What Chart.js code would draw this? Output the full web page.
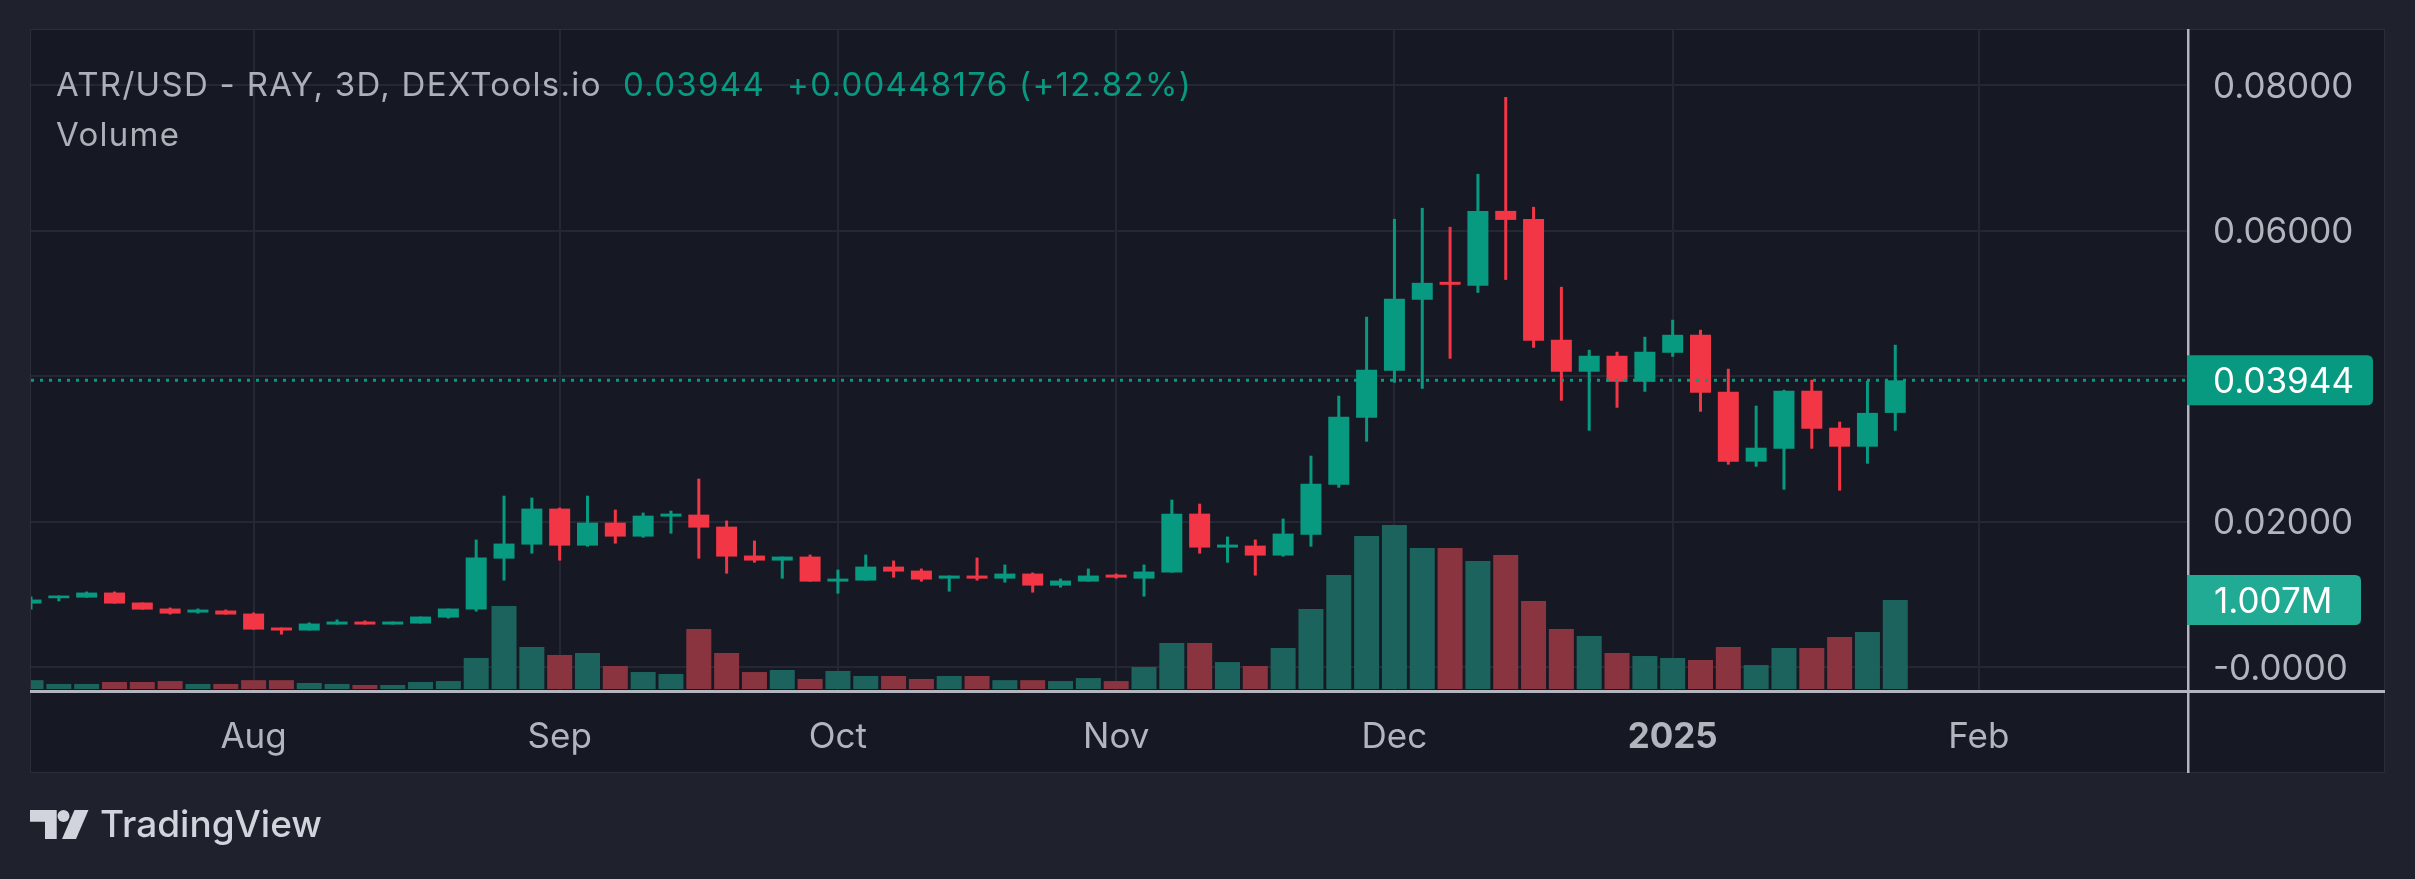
<!DOCTYPE html>
<html>
<head>
<meta charset="utf-8">
<script src="https://cdn.jsdelivr.net/npm/chart.js@4.4.1/dist/chart.umd.min.js"></script>
<style>
html,body{margin:0;padding:0;background:#1f222d;overflow:hidden;}
#wrap{position:relative;width:2415px;height:879px;}
canvas{position:absolute;left:0;top:0;}
.t{position:absolute;font-family:Inter,'Noto Sans',sans-serif;white-space:nowrap;line-height:1;}
.lg{font-size:33px;letter-spacing:1.3px;}
</style>
</head>
<body>
<div id="wrap">
<canvas id="c" width="2415" height="879"></canvas>
<div class="t lg" style="left:56px;top:67.5px;color:#adb0b8">ATR/USD - RAY, 3D, DEXTools.io</div>
<div class="t lg" style="left:623px;top:67.5px;color:#089981">0.03944</div>
<div class="t lg" style="left:787px;top:67.5px;color:#089981">+0.00448176 (+12.82%)</div>
<div class="t lg" style="left:56px;top:117.5px;color:#adb0b8">Volume</div>
<svg style="position:absolute;left:0;top:0" width="120" height="879" viewBox="0 0 120 879">
  <path d="M30 810 H56.7 V839 H45 V821.7 H30 Z" fill="#d1d4dc"/>
  <circle cx="63.5" cy="816" r="6" fill="#d1d4dc"/>
  <path d="M74.5 810 H88.5 L76 839 H62 Z" fill="#d1d4dc"/>
</svg>
<div class="t" style="left:100px;top:805px;font-size:37px;font-weight:500;color:#d1d4dc">TradingView</div>
</div>
<script>
// ---- data (3D candles, ATR/USD) ----
const opens = [0.00873,0.00946,0.00955,0.01024,0.00887,0.00804,0.00749,0.00777,0.00735,0.00543,
0.00502,0.00584,0.00625,0.00584,0.00598,0.00680,0.00790,0.01491,0.01684,0.02179,
0.01670,0.01986,0.01794,0.02069,0.02096,0.01931,0.01533,0.01464,0.01519,0.01175,
0.01189,0.01381,0.01326,0.01216,0.01258,0.01216,0.01285,0.01120,0.01175,0.01271,
0.01216,0.01299,0.02110,0.01643,0.01670,0.01533,0.01821,0.02509,0.03430,0.04076,
0.05052,0.05299,0.05244,0.06275,0.06165,0.04502,0.04062,0.04282,0.03924,0.04323,
0.04570,0.03787,0.02825,0.03003,0.03801,0.03292,0.03031,0.03496];
const highs = [0.00969,0.00983,0.01038,0.01038,0.00887,0.00818,0.00804,0.00790,0.00749,0.00543,
0.00612,0.00653,0.00639,0.00625,0.00694,0.00804,0.01753,0.02357,0.02330,0.02192,
0.02357,0.02165,0.02124,0.02151,0.02591,0.02014,0.01739,0.01519,0.01546,0.01340,
0.01546,0.01464,0.01354,0.01258,0.01505,0.01409,0.01299,0.01216,0.01354,0.01285,
0.01409,0.02302,0.02247,0.01794,0.01753,0.02041,0.02907,0.03732,0.04818,0.06165,
0.06316,0.06055,0.06784,0.07842,0.06330,0.05230,0.04364,0.04337,0.04543,0.04777,
0.04639,0.04103,0.03595,0.03814,0.03952,0.03375,0.03938,0.04433];
const lows = [0.00790,0.00904,0.00955,0.00873,0.00790,0.00722,0.00735,0.00722,0.00515,0.00447,
0.00502,0.00584,0.00584,0.00584,0.00598,0.00667,0.00763,0.01189,0.01560,0.01464,
0.01656,0.01698,0.01780,0.01835,0.01491,0.01285,0.01436,0.01216,0.01175,0.01010,
0.01189,0.01230,0.01175,0.01038,0.01189,0.01162,0.01024,0.01093,0.01175,0.01216,
0.00969,0.01299,0.01560,0.01436,0.01258,0.01519,0.01656,0.02467,0.03100,0.03911,
0.03828,0.04241,0.05148,0.05326,0.04392,0.03663,0.03251,0.03567,0.03787,0.04268,
0.03512,0.02784,0.02756,0.02440,0.03003,0.02426,0.02797,0.03251];
const closes = [0.00928,0.00983,0.01024,0.00873,0.00790,0.00735,0.00790,0.00722,0.00515,0.00502,
0.00598,0.00625,0.00584,0.00625,0.00694,0.00804,0.01505,0.01698,0.02179,0.01670,
0.01986,0.01794,0.02082,0.02110,0.01918,0.01519,0.01464,0.01519,0.01175,0.01216,
0.01381,0.01313,0.01203,0.01258,0.01216,0.01285,0.01120,0.01189,0.01258,0.01230,
0.01313,0.02110,0.01643,0.01684,0.01533,0.01835,0.02522,0.03443,0.04089,0.05065,
0.05285,0.05258,0.06275,0.06151,0.04488,0.04062,0.04282,0.03924,0.04337,0.04570,
0.03773,0.02825,0.03017,0.03801,0.03278,0.03031,0.03496,0.03944];
const volumes = [0.100,0.057,0.057,0.079,0.079,0.090,0.057,0.057,0.100,0.100,
0.068,0.057,0.045,0.045,0.079,0.090,0.351,0.939,0.475,0.385,
0.407,0.260,0.192,0.170,0.679,0.407,0.192,0.215,0.113,0.204,
0.147,0.147,0.113,0.147,0.147,0.100,0.100,0.090,0.124,0.090,
0.249,0.520,0.520,0.305,0.260,0.464,0.905,1.290,1.731,1.855,
1.595,1.595,1.448,1.516,0.995,0.679,0.600,0.407,0.373,0.351,
0.328,0.475,0.271,0.464,0.464,0.588,0.645,1.007];
const priceTickValues = [0, 0.02, 0.04, 0.06, 0.08];
const priceTickLabels = ['-0.0000', '0.02000', '', '0.06000', '0.08000'];
const timeTickIndex = [8, 19, 29, 39, 49, 59, 70];
const timeTickLabels = ['Aug', 'Sep', 'Oct', 'Nov', 'Dec', '2025', 'Feb'];
const lastCloseLabel = '0.03944';
const lastVolumeLabel = '1.007M';

// ---- styles ----
const UP = '#089981', DN = '#f23645', UPV = '#1d635d', DNV = '#89343f';
const OUTER = '#1f222d', PANEL = '#161924', GRID = '#252834', AXIS = '#b2b5be';
Chart.defaults.font.family = 'Inter';

const idx = opens.map((_, i) => i);
const up = idx.map(i => closes[i] >= opens[i]);
const lastClose = closes[closes.length - 1];
const lastVol = volumes[volumes.length - 1];

function boxRight(ctx, x, y, w, h, r, color) {
  ctx.fillStyle = color;
  ctx.beginPath();
  ctx.moveTo(x, y);
  ctx.lineTo(x + w - r, y);
  ctx.quadraticCurveTo(x + w, y, x + w, y + r);
  ctx.lineTo(x + w, y + h - r);
  ctx.quadraticCurveTo(x + w, y + h, x + w - r, y + h);
  ctx.lineTo(x, y + h);
  ctx.closePath();
  ctx.fill();
}

const deco = {
  id: 'deco',
  beforeDraw(chart) {
    const ctx = chart.ctx;
    ctx.save();
    ctx.fillStyle = OUTER; ctx.fillRect(0, 0, 2415, 879);
    ctx.fillStyle = PANEL; ctx.fillRect(30, 29, 2355, 744);
    ctx.strokeStyle = '#2a2e39'; ctx.lineWidth = 1;
    ctx.strokeRect(30.5, 29.5, 2354, 743);
    ctx.restore();
  },
  afterDatasetsDraw(chart) {
    const ctx = chart.ctx, a = chart.chartArea;
    const y = chart.scales.y.getPixelForValue(lastClose);
    ctx.save();
    ctx.strokeStyle = UP; ctx.lineWidth = 3;
    ctx.setLineDash([3, 6]);
    ctx.beginPath(); ctx.moveTo(a.left, y); ctx.lineTo(a.right, y); ctx.stroke();
    ctx.restore();
  },
  afterDraw(chart) {
    const ctx = chart.ctx;
    ctx.save();
    ctx.fillStyle = AXIS;
    ctx.fillRect(30, 690, 2355, 3);
    ctx.fillRect(2187, 29, 2.5, 744);
    const yp = chart.scales.y.getPixelForValue(lastClose);
    boxRight(ctx, 2187, yp - 25, 186, 50, 6, UP);
    const yv = chart.scales.yv.getPixelForValue(lastVol);
    boxRight(ctx, 2187, yv - 25, 174, 50, 6, '#22ab94');
    ctx.fillStyle = '#ffffff';
    ctx.font = '35px Inter';
    ctx.textBaseline = 'alphabetic';
    ctx.textAlign = 'left';
    ctx.fillText(lastCloseLabel, 2213, yp + 13);
    ctx.fillText(lastVolumeLabel, 2214, yv + 13);
    ctx.restore();
  }
};

function noPad(s) { s.paddingTop = 0; s.paddingBottom = 0; s.paddingLeft = 0; s.paddingRight = 0; }

new Chart(document.getElementById('c'), {
  type: 'bar',
  data: {
    datasets: [
      { label: 'Volume', yAxisID: 'yv', order: 3, grouped: false, clip: 0,
        data: idx.map(i => ({ x: i, y: volumes[i] })),
        backgroundColor: idx.map(i => up[i] ? UPV : DNV),
        categoryPercentage: 1, barPercentage: 1, maxBarThickness: 25,
        borderWidth: 0, inflateAmount: 0 },
      { label: 'Wick', yAxisID: 'y', order: 2, grouped: false, clip: 0,
        data: idx.map(i => ({ x: i, y: [lows[i], highs[i]] })),
        backgroundColor: idx.map(i => up[i] ? UP : DN),
        categoryPercentage: 1, barPercentage: 1, maxBarThickness: 3,
        borderWidth: 0, borderSkipped: false, inflateAmount: 0 },
      { label: 'Body', yAxisID: 'y', order: 1, grouped: false, clip: 0,
        data: idx.map(i => ({ x: i, y: [opens[i], closes[i]] })),
        backgroundColor: idx.map(i => up[i] ? UP : DN),
        categoryPercentage: 1, barPercentage: 1, maxBarThickness: 21,
        borderWidth: 0, borderSkipped: false, inflateAmount: 0 }
    ]
  },
  options: {
    responsive: false,
    animation: false,
    devicePixelRatio: 1,
    events: [],
    layout: { padding: { left: 31, top: 30, right: 30, bottom: 106 } },
    plugins: { legend: { display: false }, tooltip: { enabled: false } },
    scales: {
      x: {
        type: 'linear', position: 'bottom', min: 0, max: 77.52, offset: false,
        afterBuildTicks: s => { s.ticks = timeTickIndex.map(v => ({ value: v })); },
        afterFit: s => { s.height = 83; noPad(s); },
        grid: { color: GRID, lineWidth: 2, drawTicks: false, offset: false },
        border: { display: false },
        ticks: {
          autoSkip: false, maxRotation: 0, minRotation: 0, padding: 26, color: AXIS,
          font: c => ({ family: 'Inter', size: 35, weight: (c.tick && c.tick.value === 59) ? 'bold' : 'normal' }),
          callback: (v, i) => timeTickLabels[i]
        }
      },
      y: {
        type: 'linear', position: 'right', min: -0.003164, max: 0.087635,
        afterBuildTicks: s => { s.ticks = priceTickValues.map(v => ({ value: v })); },
        afterFit: s => { s.width = 197; noPad(s); },
        grid: { color: GRID, lineWidth: 2, drawTicks: false, offset: false },
        border: { display: false },
        ticks: { padding: 25, labelOffset: 2, color: AXIS, font: { family: 'Inter', size: 35 },
          callback: (v, i) => priceTickLabels[i] }
      },
      yv: { type: 'linear', display: false, min: -0.0113, max: 7.455 }
    }
  },
  plugins: [deco]
});
</script>
</body>
</html>
